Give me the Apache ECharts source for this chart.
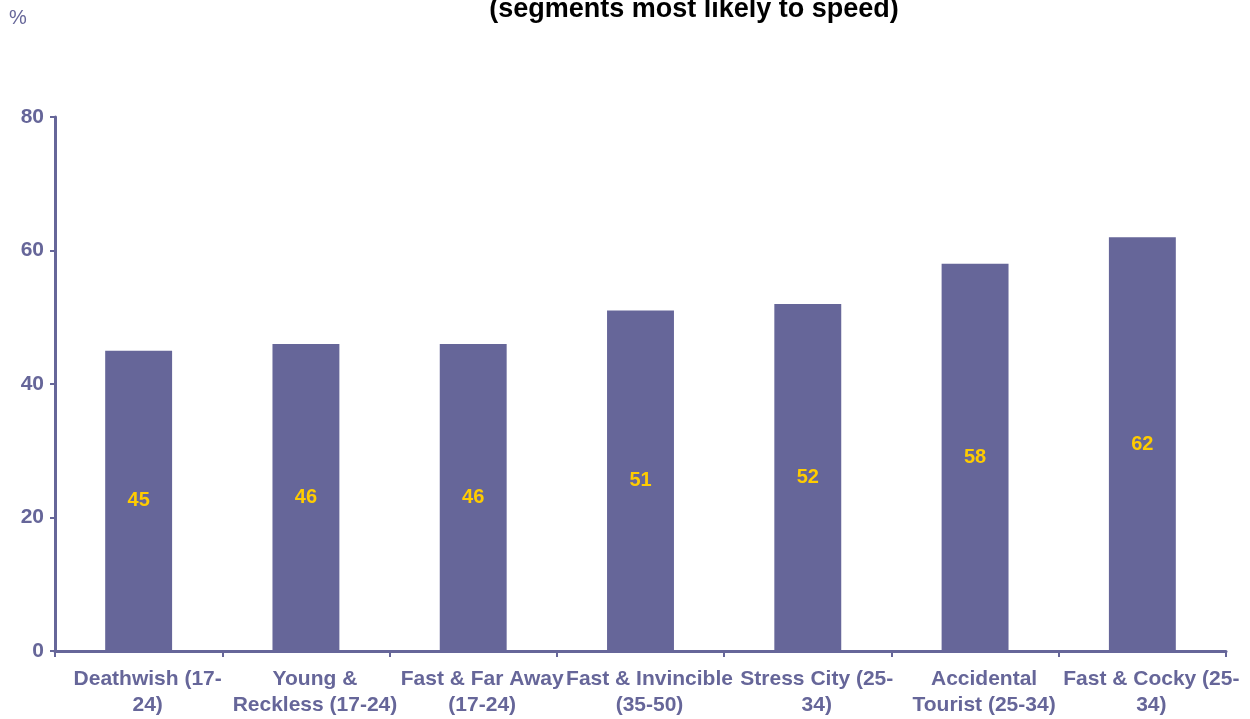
<!DOCTYPE html>
<html>
<head>
<meta charset="utf-8">
<script src="https://cdn.jsdelivr.net/npm/echarts@6/dist/echarts.min.js"></script>
<style>
  html, body { margin: 0; padding: 0; background: #ffffff; }
  #chart { width: 1250px; height: 719px; }
</style>
</head>
<body>
<div id="chart"></div>
<script>
// Speeding segments: share of each segment (%)
const categories = [
  'Deathwish (17-\n24)',
  'Young &\nReckless (17-24)',
  'Fast & Far Away\n(17-24)',
  'Fast & Invincible\n(35-50)',
  'Stress City (25-\n34)',
  'Accidental\nTourist (25-34)',
  'Fast & Cocky (25-\n34)'
];
const values = [45, 46, 46, 51, 52, 58, 62];
const yTicks = [0, 20, 40, 60, 80];

const axisColor = '#666699';
const barColor = '#666699';
const labelFont = 'Liberation Sans, Arial, sans-serif';

const chart = echarts.init(document.getElementById('chart'), null, { renderer: 'canvas' });

chart.setOption({
  animation: false,
  backgroundColor: '#ffffff',
  title: {
    text: '(segments most likely to speed)',
    left: 694,
    top: -4,
    padding: 0,
    textAlign: 'center',
    textStyle: {
      fontFamily: labelFont,
      fontWeight: 'bold',
      fontSize: 27,
      color: '#000000'
    }
  },
  graphic: [{
    type: 'text',
    left: 9,
    top: 8,
    style: {
      text: '%',
      fontFamily: labelFont,
      fontSize: 20,
      fill: axisColor
    }
  }],
  grid: {
    left: 55,
    right: 24,
    top: 117,
    bottom: 68,
    containLabel: false
  },
  xAxis: {
    type: 'category',
    data: categories,
    boundaryGap: true,
    axisLine: { show: true, lineStyle: { color: axisColor, width: 3 } },
    axisTick: { show: true, alignWithLabel: false, length: 6, lineStyle: { color: axisColor, width: 2 } },
    axisLabel: {
      interval: 0,
      margin: 15,
      padding: [0, 0, 0, 18],
      fontFamily: labelFont,
      fontWeight: 'bold',
      fontSize: 21,
      lineHeight: 26,
      color: axisColor
    },
    splitLine: { show: false }
  },
  yAxis: {
    type: 'value',
    min: yTicks[0],
    max: yTicks[yTicks.length - 1],
    interval: yTicks[1] - yTicks[0],
    axisLine: { show: true, lineStyle: { color: axisColor, width: 3 } },
    axisTick: { show: true, length: 5, lineStyle: { color: axisColor, width: 2 } },
    axisLabel: {
      margin: 11,
      fontFamily: labelFont,
      fontWeight: 'bold',
      fontSize: 21,
      color: axisColor
    },
    splitLine: { show: false }
  },
  series: [{
    type: 'bar',
    data: values,
    barWidth: '40%',
    itemStyle: { color: barColor },
    label: {
      show: true,
      position: 'inside',
      fontFamily: labelFont,
      fontWeight: 'bold',
      fontSize: 20,
      color: '#FFCC00'
    }
  }]
});
</script>
</body>
</html>
